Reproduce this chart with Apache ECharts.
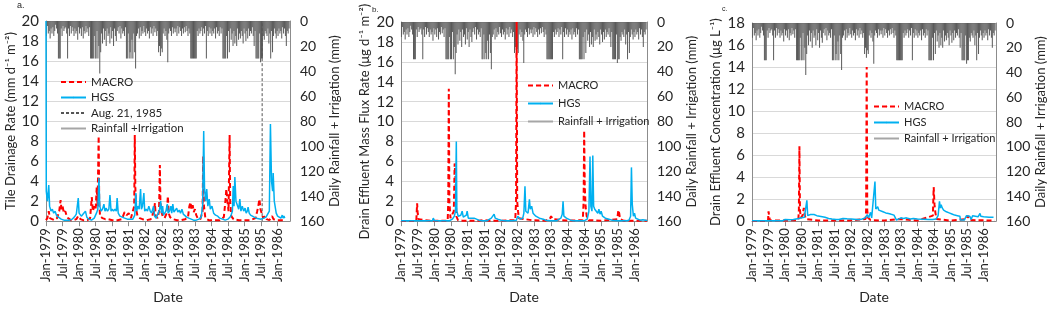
<!DOCTYPE html>
<html>
<head>
<meta charset="utf-8">
<script src="https://cdn.jsdelivr.net/npm/echarts@6/dist/echarts.min.js"></script>
<style>
html, body { margin: 0; padding: 0; background: #fff; }
#chartDiv { width: 1052px; height: 309px; }
</style>
</head>
<body>
<div id="chartDiv"></div>
<script>
// x values are months counted from Jan-1979
const xTickLabels = ["Jan", "Jul"];
const firstYear = 1979;
const augDate = 78.4; // Aug. 21, 1985 marker as placed in the figure

// daily rainfall + irrigation, one value per ~10 days from Jan-1979 (mm)
const rain = [
    12,4,10, 8,14,6, 10,5,12, 8,3,6, 10,30,30, 30,6,12, 4,8,6, 5,10,30, 6,12,4, 10,5,8, 12,6,10, 8,15,5,
    10,6,12, 5,14,8, 10,4,9, 6,12,5, 30,30,30, 30,12,30, 30,8,30, 20,42,25, 10,18,6, 15,8,20, 6,12,10, 18,5,14,
    8,20,6, 12,16,8, 5,10,4, 14,6,10, 8,12,5, 30,30,10, 30,25,30, 15,30,10, 25,38,12, 10,6,14, 5,12,8, 10,4,9,
    12,6,10, 8,14,5, 10,6,12, 4,9,6, 12,8,25, 20,28,22, 25,10,6, 12,8,15, 33,10,6, 8,12,5, 10,6,9, 6,12,4,
    10,5,8, 12,6,10, 5,9,4, 8,12,6, 10,30,30, 30,30,30, 30,30,8, 12,6,10, 8,5,12, 6,10,4, 30,8,12, 5,10,6,
    12,8,10, 6,14,5, 10,8,12, 5,10,6, 30,30,30, 30,12,30, 8,25,6, 15,10,20, 8,18,12, 20,6,15, 10,14,8, 12,18,6,
    10,16,8, 14,6,12, 8,10,5, 12,20,8, 30,30,30, 30,10,33, 30,30,12, 15,8,10, 12,6,18, 10,30,8, 25,12,6, 10,14,8,
    12,6,10, 8,14,5, 10,6,12, 20,8,10, 6
];

// a. tile drainage rate (mm d-1 m-2)
const hgsA = [[0,20],[0.1,3.0],[0.5,2.0],[1.0,3.6],[1.3,1.5],[1.8,1.0],[2.3,1.2],[2.8,0.8],[3.3,1.0],[3.8,0.6],[4.5,0.4],[5.5,0.2],[6.5,0.1],[7.5,0.1],[8.5,0.1],[9.5,0.2],[10.5,0.5],[11.0,0.7],[11.7,2.3],[12.0,0.8],[12.8,0.5],[13.5,0.4],[14.3,1.0],[14.8,0.4],[15.5,0.2],[16.5,0.1],[17.5,0.3],[18.3,0.8],[18.8,1.2],[19.2,4.3],[19.5,1.5],[20.0,1.0],[20.5,1.2],[21.0,1.7],[21.4,1.0],[21.8,1.3],[22.3,1.0],[22.8,1.2],[23.2,2.6],[23.6,1.0],[24.0,1.2],[24.5,1.0],[25.0,1.2],[25.5,1.0],[25.8,2.3],[26.2,0.8],[26.8,0.5],[27.5,0.4],[28.5,0.3],[29.5,0.2],[30.5,0.2],[31.5,0.2],[32.2,0.6],[32.6,2.8],[32.9,1.0],[33.3,1.5],[33.8,1.2],[34.3,3.2],[34.6,1.2],[35.0,1.5],[35.5,2.8],[35.8,1.0],[36.3,1.2],[36.8,1.0],[37.3,1.5],[37.8,1.0],[38.3,0.8],[39.0,1.5],[39.4,0.5],[40.0,0.3],[40.6,0.2],[41.2,1.2],[41.6,2.0],[41.9,0.8],[42.3,1.5],[42.6,0.6],[43.0,0.5],[43.5,1.0],[44.0,1.7],[44.3,0.8],[44.8,1.0],[45.3,1.5],[45.6,0.8],[46.0,1.7],[46.4,0.9],[46.9,1.0],[47.4,1.3],[47.8,0.9],[48.3,1.1],[48.8,0.8],[49.3,1.2],[49.8,0.7],[50.3,0.6],[51.0,0.4],[51.8,0.3],[52.5,0.2],[53.5,0.1],[54.5,0.1],[55.5,0.2],[56.3,0.4],[56.8,1.5],[57.2,9.0],[57.5,3.3],[57.9,2.0],[58.3,3.2],[58.7,1.5],[59.2,2.2],[59.6,1.2],[60.2,1.5],[60.8,0.8],[61.5,0.6],[62.3,0.5],[63.0,0.3],[64.0,0.2],[65.0,0.1],[66.0,0.2],[67.0,0.5],[67.6,1.0],[67.9,3.5],[68.2,1.5],[68.5,4.4],[68.9,2.0],[69.4,1.6],[69.9,1.2],[70.3,2.2],[70.7,1.0],[71.2,1.5],[71.7,1.0],[72.2,1.3],[72.6,0.8],[73.0,1.0],[73.3,1.4],[73.7,0.8],[74.2,0.6],[74.8,0.5],[75.5,0.4],[76.3,0.3],[77.0,0.2],[78.0,0.2],[79.0,0.3],[79.8,0.4],[80.5,0.5],[81.0,1.0],[81.4,9.7],[81.8,4.0],[82.2,3.0],[82.4,4.8],[82.8,2.0],[83.1,2.0],[83.5,0.8],[84.0,0.5],[84.6,0.4],[85.2,0.3],[85.7,0.6],[86.0,0.3],[86.3,0.5],[86.6,0.3]];
const macroA = [[0,0.1],[0.5,0.3],[1.0,1.0],[1.4,0.3],[2.0,0.2],[3.0,0.1],[4.0,0.3],[4.8,1.0],[5.3,2.1],[5.6,1.2],[6.0,1.5],[6.5,0.8],[7.0,1.0],[7.5,0.5],[8.0,0.3],[9.0,0.1],[10.0,0.1],[11.0,0.2],[11.7,0.5],[12.5,0.2],[13.5,0.1],[15.0,0.1],[16.0,0.3],[16.6,2.4],[17.0,1.0],[17.5,1.5],[18.0,1.2],[18.4,3.4],[18.7,1.5],[19.1,8.5],[19.3,2.0],[19.6,0.5],[20.5,0.3],[21.5,0.2],[22.5,0.2],[24.0,0.1],[26.0,0.1],[27.5,0.2],[28.5,0.9],[29.3,0.6],[30.0,0.8],[30.8,0.3],[31.5,0.2],[32.0,1.5],[32.2,8.6],[32.4,3.4],[32.7,1.2],[33.2,0.5],[34.0,0.3],[35.0,0.2],[36.5,0.1],[38.0,0.2],[39.2,1.0],[39.5,1.8],[39.8,0.5],[40.5,0.3],[41.0,1.0],[41.3,5.6],[41.5,2.0],[41.8,1.0],[42.3,0.5],[43.0,0.3],[43.8,0.8],[44.2,2.5],[44.5,0.8],[45.0,0.4],[46.0,0.2],[47.5,0.1],[49.0,0.1],[50.5,0.2],[51.5,0.4],[52.0,1.5],[52.4,1.9],[52.8,1.2],[53.2,1.6],[53.6,0.9],[54.0,1.2],[54.5,0.6],[55.0,0.3],[56.0,0.2],[56.8,1.0],[57.0,6.5],[57.3,1.5],[57.8,0.3],[59.0,0.1],[61.0,0.1],[63.0,0.1],[64.5,0.4],[65.0,1.8],[65.4,3.2],[65.8,2.0],[66.2,1.0],[66.6,8.6],[66.8,2.0],[67.2,0.5],[68.0,0.2],[70.0,0.1],[72.0,0.1],[74.0,0.1],[76.0,0.3],[76.6,1.0],[77.0,1.5],[77.4,2.2],[77.8,1.2],[78.2,0.8],[78.8,0.3],[79.5,0.5],[80.0,0.2],[81.0,0.1],[82.0,0.5],[82.5,0.2],[83.0,0.3],[84.0,0.1],[85.0,0.1],[86.0,0.1],[86.6,0.1]];

// b. drain effluent mass flux rate (ug d-1 m-2)
const hgsB = [[0,0.05],[5,0.05],[10,0.05],[11.3,0.05],[11.6,0.3],[12.0,0.05],[14,0.05],[17.5,0.05],[18.5,0.2],[19.2,0.5],[19.6,1.0],[19.9,8.0],[20.1,1.0],[20.6,0.5],[21.0,0.3],[21.5,0.6],[22.0,1.0],[22.4,0.4],[23.0,0.5],[23.5,0.6],[23.8,1.0],[24.2,0.3],[24.8,0.4],[25.5,0.3],[26.3,0.3],[27,0.15],[28,0.1],[29,0.05],[31,0.05],[32.5,0.3],[33.0,0.4],[33.5,0.7],[33.9,0.3],[34.4,0.5],[34.8,0.2],[35.5,0.3],[36.0,0.1],[37,0.05],[40,0.05],[41.5,0.1],[42.0,0.5],[42.4,0.3],[43.0,0.2],[43.8,0.3],[44.2,0.8],[44.6,3.5],[44.9,1.0],[45.3,1.2],[45.7,0.8],[46.2,2.2],[46.5,1.2],[47.0,1.5],[47.5,0.8],[48.0,1.0],[48.5,0.5],[49.2,0.5],[49.8,0.3],[50.5,0.4],[51.2,0.2],[52,0.1],[54,0.05],[56,0.05],[57.5,0.3],[58.0,0.7],[58.3,2.0],[58.6,0.5],[59.0,0.4],[59.5,0.3],[60.0,0.2],[61,0.1],[62,0.05],[66,0.05],[67.0,0.2],[67.6,1.0],[68.0,6.5],[68.3,1.5],[68.7,1.0],[69.0,6.6],[69.3,1.5],[69.7,1.2],[70.0,1.0],[70.4,1.2],[70.8,0.8],[71.2,1.2],[71.6,0.7],[72.0,1.0],[72.5,0.5],[73.0,0.6],[73.5,0.3],[74.0,0.4],[74.8,0.2],[75.5,0.3],[76,0.1],[78,0.05],[81,0.05],[82.0,0.1],[82.6,0.5],[82.9,5.4],[83.2,1.7],[83.6,0.5],[84.0,0.8],[84.4,0.3],[85.0,0.2],[86,0.1],[87,0.15],[88,0.1],[88.5,0.05]];
const macroB = [[0,0.02],[5.5,0.02],[5.8,1.8],[6.0,0.8],[6.3,0.2],[6.6,0.02],[11,0.02],[13,0.05],[16.8,0.05],[17.0,2.0],[17.2,13.3],[17.4,2.0],[17.8,0.3],[18.5,0.5],[19.0,1.0],[19.3,5.8],[19.6,4.4],[19.9,0.5],[20.5,0.1],[22,0.05],[28,0.05],[30,0.1],[32,0.05],[36,0.05],[41.1,0.1],[41.4,2.0],[41.6,20],[41.8,2.0],[42.1,1.0],[42.4,0.3],[43,0.1],[47,0.1],[52,0.05],[53.5,0.2],[54.0,0.5],[54.5,0.2],[55,0.05],[60,0.05],[65.4,0.1],[65.7,2.0],[65.9,9.1],[66.1,3.6],[66.4,1.5],[66.8,0.5],[67.5,0.1],[72,0.05],[77.8,0.2],[78.2,1.1],[78.5,0.8],[78.8,0.2],[80,0.05],[88.5,0.05]];

// c. drain effluent concentration (ug L-1)
const hgsC = [[0,0.03],[5,0.03],[11,0.03],[12.0,0.15],[14,0.12],[15,0.15],[16,0.2],[17,0.25],[18,0.3],[19.0,0.35],[19.5,0.5],[19.9,1.9],[20.2,0.5],[20.8,0.4],[21.2,0.6],[21.7,0.7],[22.5,0.6],[23.5,0.5],[24.5,0.45],[25.5,0.4],[26.5,0.35],[27.8,0.25],[29,0.2],[30.5,0.15],[31.5,0.15],[32.0,0.3],[33,0.25],[34.5,0.22],[36,0.2],[37,0.18],[38,0.15],[39,0.15],[40,0.2],[41.0,0.3],[41.8,0.6],[42.3,0.3],[43.0,0.8],[43.4,0.3],[44.0,0.3],[44.6,3.6],[44.9,1.1],[45.2,1.2],[45.6,1.3],[46.0,1.0],[46.6,1.0],[47.5,0.85],[48.5,0.75],[49.5,0.7],[50.5,0.62],[51.5,0.55],[52.2,0.5],[52.4,0.1],[53.0,0.1],[54.0,0.3],[55,0.25],[56,0.3],[56.5,0.15],[57.5,0.2],[58.5,0.25],[60,0.2],[62,0.18],[64,0.15],[65.5,0.15],[66.8,0.2],[67.5,0.5],[68.0,1.8],[68.3,1.2],[68.6,1.5],[69.0,1.2],[69.5,1.0],[70.5,0.85],[71.5,0.75],[72.5,0.65],[73.5,0.55],[74.5,0.5],[75.4,0.45],[75.6,0.1],[77.0,0.1],[77.8,0.5],[78.5,0.4],[79.0,0.45],[79.5,0.15],[80.0,0.5],[81,0.45],[82,0.4],[82.7,0.7],[83.0,0.45],[84,0.4],[85,0.38],[86,0.35],[87.6,0.35]];
const macroC = [[0,0.02],[5.8,0.02],[6.0,0.9],[6.3,0.3],[6.6,0.05],[11,0.05],[16.8,0.1],[17.0,1.0],[17.2,6.8],[17.4,1.0],[17.7,0.3],[18.3,0.5],[18.8,1.2],[19.1,0.6],[19.5,0.2],[20,0.1],[24,0.05],[30,0.05],[35,0.05],[41.2,0.2],[41.4,1.0],[41.6,14],[41.8,1.0],[42.1,0.3],[43,0.1],[48,0.05],[53.5,0.2],[54,0.1],[60,0.05],[65.6,0.5],[65.9,3.1],[66.2,1.5],[66.5,0.8],[66.9,0.2],[67.5,0.1],[72,0.05],[77.8,0.2],[78.2,0.5],[78.6,0.3],[79,0.1],[88,0.05]];

const rainPoints = rain.map((v, k) => [k / 3 + 1 / 6, v]);

let chart = echarts.init(document.getElementById("chartDiv"));

const grey = "#8c8c8c";
const txt = "#262626";
let grids = [], xAxes = [], yAxes = [], series = [], legends = [];

function addPanel(i, p) {
    grids.push({ left: p.left, top: p.top, width: p.width, height: p.height });
    xAxes.push({
        gridIndex: i,
        type: "value",
        min: 0,
        max: 88.5,
        interval: 6,
        name: "Date",
        nameLocation: "middle",
        nameGap: p.dateGap,
        nameTextStyle: { fontSize: 14, color: txt },
        axisLine: { lineStyle: { color: grey } },
        axisTick: { show: true, length: 5, lineStyle: { color: grey } },
        splitLine: { show: false },
        axisLabel: {
            rotate: 90,
            fontSize: 13,
            color: txt,
            margin: 7,
            showMaxLabel: false,
            formatter: function (v) {
                if (v % 6 !== 0) return "";
                return xTickLabels[(v % 12) / 6] + "-" + (firstYear + Math.floor(v / 12));
            },
        },
    });
    yAxes.push({
        gridIndex: i,
        type: "value",
        min: 0,
        max: p.yMax,
        interval: 2,
        name: p.yName,
        nameLocation: "middle",
        nameRotate: 90,
        nameGap: p.yGap,
        nameTextStyle: { fontSize: 13, color: txt },
        axisLine: { show: true, lineStyle: { color: grey } },
        axisTick: { show: false },
        axisLabel: { fontSize: 15, color: txt, margin: 7 },
        splitLine: { lineStyle: { color: "#d9d9d9" } },
    });
    yAxes.push({
        gridIndex: i,
        type: "value",
        position: "right",
        inverse: true,
        min: 0,
        max: 160,
        interval: 20,
        name: "Daily Rainfall + Irrigation (mm)",
        nameLocation: "middle",
        nameRotate: 90,
        nameGap: p.rGap,
        nameTextStyle: { fontSize: 13, color: txt },
        axisLine: { show: true, lineStyle: { color: grey } },
        axisTick: { show: false },
        axisLabel: { fontSize: 14, color: txt, margin: 10 },
        splitLine: { show: false },
    });
    series.push({
        name: p.rainName,
        type: "bar",
        xAxisIndex: i,
        yAxisIndex: 2 * i + 1,
        barWidth: 0.8,
        itemStyle: { color: "#5a5a5a" },
        data: rainPoints,
        z: 1,
    });
    series.push({
        name: "MACRO",
        type: "line",
        xAxisIndex: i,
        yAxisIndex: 2 * i,
        symbol: "none",
        lineStyle: { color: "#ff0000", width: 2, type: [5, 3] },
        itemStyle: { color: "#ff0000" },
        data: p.macro,
        z: 2,
    });
    series.push({
        name: "HGS",
        type: "line",
        xAxisIndex: i,
        yAxisIndex: 2 * i,
        symbol: "none",
        lineStyle: { color: "#00b0f0", width: 1.5 },
        itemStyle: { color: "#00b0f0" },
        data: p.hgs,
        z: 3,
    });
    let legendData = ["MACRO", "HGS"];
    if (p.aug) {
        series.push({
            name: "Aug. 21, 1985",
            type: "line",
            xAxisIndex: i,
            yAxisIndex: 2 * i,
            symbol: "none",
            lineStyle: { color: "#555", width: 1, type: [3, 2] },
            itemStyle: { color: "#555" },
            data: [[augDate, 0], [augDate, 20]],
            z: 2,
        });
        legendData.push("Aug. 21, 1985");
    }
    legendData.push({ name: p.rainName, icon: "rect", itemStyle: { color: "#a6a6a6" } });
    legends.push({
        orient: "vertical",
        left: p.legLeft,
        top: p.legTop,
        itemWidth: 25,
        itemHeight: 2,
        itemGap: p.legGap,
        textStyle: { fontSize: p.legFont, color: txt },
        data: legendData,
    });
}

addPanel(0, {
    left: 46, top: 21, width: 244, height: 201, yMax: 20,
    yName: "Tile Drainage Rate (mm d\u207B\u00B9 m\u207B\u00B2)", yGap: 27, rGap: 38, dateGap: 66,
    rainName: "Rainfall +Irrigation", macro: macroA, hgs: hgsA, aug: true,
    legLeft: 55, legTop: 71, legGap: 3.5, legFont: 11.5,
});
addPanel(1, {
    left: 401, top: 22, width: 246, height: 203, yMax: 20,
    yName: "Drain Effluent Mass Flux Rate (\u03BCg d\u207B\u00B9 m\u207B\u00B2)", yGap: 30, rGap: 38, dateGap: 66,
    rainName: "Rainfall + Irrigation", macro: macroB, hgs: hgsB, aug: false,
    legLeft: 522, legTop: 75, legGap: 7, legFont: 11,
});
addPanel(2, {
    left: 752, top: 23, width: 244, height: 208, yMax: 18,
    yName: "Drain Effluent Concentration (\u03BCg L\u207B\u00B9)", yGap: 30, rGap: 38, dateGap: 64,
    rainName: "Rainfall + Irrigation", macro: macroC, hgs: hgsC, aug: false,
    legLeft: 868, legTop: 96, legGap: 5, legFont: 11,
});

let options = {
    animation: false,
    backgroundColor: "#fff",
    textStyle: { fontFamily: "Lato, 'Noto Sans', sans-serif" },
    grid: grids,
    xAxis: xAxes,
    yAxis: yAxes,
    legend: legends,
    series: series,
    graphic: [
        { type: "text", left: 17, top: 1, style: { text: "a.", fontSize: 9, fill: txt } },
        { type: "text", left: 372, top: 6, style: { text: "b.", fontSize: 8, fill: txt } },
        { type: "text", left: 722, top: 6, style: { text: "c.", fontSize: 7, fill: txt } },
    ],
};
chart.setOption(options);
</script>
</body>
</html>
